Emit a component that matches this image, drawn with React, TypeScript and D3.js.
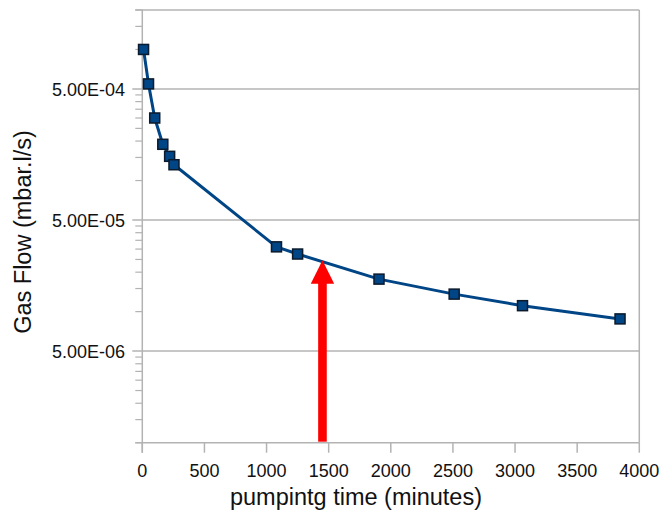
import React from 'react'
import * as d3 from 'd3'

// pumping time (minutes) and measured gas flow (mbar.l/s)
const times = [10, 50, 100, 165, 220, 255, 1080, 1250, 1905, 2510, 3060, 3845]
const flows = [1.0e-3, 5.46e-4, 3.0e-4, 1.89e-4, 1.53e-4, 1.32e-4, 3.12e-5, 2.75e-5, 1.77e-5, 1.36e-5, 1.11e-5, 8.8e-6]

const xTicks = [0, 500, 1000, 1500, 2000, 2500, 3000, 3500, 4000]
const yMajor = [5e-4, 5e-5, 5e-6]
const yLabels = ['5.00E-04', '5.00E-05', '5.00E-06']

// the red arrow marks this point in time
const arrowTime = 1450
const arrowFlow = 2.47e-5

const width = 663
const height = 512
const left = 142.3
const right = 639.3
const top = 10
const bottom = 442.7

const grid = '#b3b3b3'
const blue = '#004586'
const font = '"Liberation Sans", Arial, sans-serif'

const App = () => {
    const x = d3.scaleLinear().domain([0, 4000]).range([left, right])
    const y = d3.scaleLog().domain([1e-6, 2e-3]).range([bottom, top])

    // minor ticks: 2..9 times the decade start (which sits at 5e-n)
    const minor: number[] = []
    ;[5e-7, 5e-6, 5e-5, 5e-4].forEach(base => {
        for (let m = 2; m <= 9; m++) {
            const v = base * m
            if (v >= 1e-6 * 0.999 && v <= 2e-3 * 1.001) minor.push(v)
        }
    })

    const pts = times.map((t, i) => [t, flows[i]] as [number, number])
    const line = d3.line<[number, number]>()
        .x(d => x(d[0]))
        .y(d => y(d[1]))

    const ax = x(arrowTime)
    const tipY = y(arrowFlow)

    return (
        <div style={{ position: 'absolute', left: 0, top: 0 }}>
            <svg width={width} height={height} style={{ display: 'block', background: '#fff' }}>
                {/* horizontal grid on major values */}
                {yMajor.map(v => (
                    <line key={'g' + v} x1={left - 10} x2={right} y1={y(v)} y2={y(v)} stroke={grid} strokeWidth={1.5} />
                ))}
                {/* minor ticks */}
                {minor.map(v => (
                    <line key={'m' + v} x1={left - 7} x2={left} y1={y(v)} y2={y(v)} stroke={grid} strokeWidth={1.2} />
                ))}
                {/* frame */}
                <line x1={left - 7} x2={right} y1={top} y2={top} stroke={grid} strokeWidth={1.5} />
                <line x1={right} x2={right} y1={top} y2={bottom} stroke={grid} strokeWidth={1.5} />
                <line x1={left} x2={left} y1={top} y2={bottom + 10} stroke={grid} strokeWidth={1.5} />
                <line x1={left - 7} x2={right} y1={bottom} y2={bottom} stroke={grid} strokeWidth={1.5} />
                {xTicks.map(t => (
                    <line key={'xt' + t} x1={x(t)} x2={x(t)} y1={bottom} y2={bottom + 10} stroke={grid} strokeWidth={1.5} />
                ))}

                {/* tick labels */}
                {xTicks.map(t => (
                    <text key={'xl' + t} x={x(t)} y={477} textAnchor="middle" fontFamily={font} fontSize={18} fill="#111">{t}</text>
                ))}
                {yMajor.map((v, i) => (
                    <text key={'yl' + v} x={125} y={y(v)} dy="0.38em" textAnchor="end" fontFamily={font} fontSize={18} fill="#111">{yLabels[i]}</text>
                ))}

                {/* axis titles */}
                <text x={356} y={505} textAnchor="middle" fontFamily={font} fontSize={23.5} fill="#111">pumpintg time (minutes)</text>
                <text transform="translate(31,232) rotate(-90)" textAnchor="middle" fontFamily={font} fontSize={23.5} fill="#111">Gas Flow (mbar.l/s)</text>

                {/* series */}
                <path d={line(pts) || ''} fill="none" stroke={blue} strokeWidth={3} strokeLinejoin="round" />
                {pts.map((d, i) => (
                    <rect key={'p' + i} x={x(d[0]) - 5} y={y(d[1]) - 5} width={10} height={10} fill={blue} stroke="#0b1a2c" strokeWidth={1.5} />
                ))}

                {/* red arrow */}
                <rect x={ax - 4.3} y={tipY + 22} width={8.6} height={bottom - 1 - (tipY + 22)} fill="#ff0000" />
                <path d={`M${ax},${tipY} L${ax + 11.7},${tipY + 23.5} L${ax - 11.7},${tipY + 23.5} Z`} fill="#ff0000" />
            </svg>
        </div>
    )
}

export default App
